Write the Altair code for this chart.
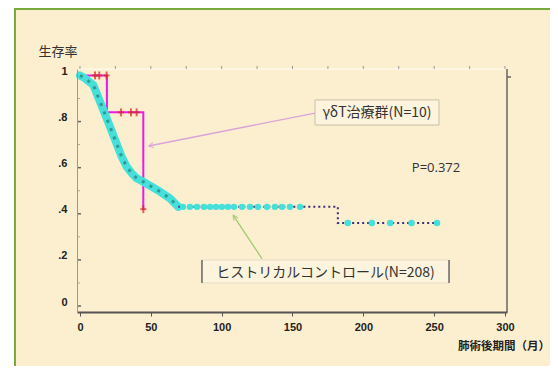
import altair as alt
import pandas as pd

# ---- data ----
# gamma-delta T treatment group (N=10): step curve vertices
treat_t = [0, 19, 19, 44.7, 44.7]
treat_s = [1.0, 1.0, 0.84, 0.84, 0.42]
# censor marks of treatment group
treat_cens_t = [10.6, 13.6, 18.8, 29, 36, 40, 44.7]
treat_cens_s = [1.0, 1.0, 1.0, 0.84, 0.84, 0.84, 0.42]

# historical control (N=208): curve vertices
ctrl_t = [69.4, 182, 182, 252]
ctrl_s = [0.43, 0.43, 0.36, 0.36]
# descending part drawn as dense censor band
band_t = [0, 3, 9.4, 16.5, 21.2, 29.4, 33, 36.5, 40, 44.7, 56.5, 63.5, 69.4]
band_s = [1.0, 0.99, 0.959, 0.85, 0.778, 0.648, 0.604, 0.576, 0.554, 0.539, 0.496, 0.467, 0.43]
# censor points on the plateaus
cens_t = [72.7, 77.6, 82.6, 87.5, 91.8, 96, 100.2, 104.5, 108.7, 114.4, 120, 125.6, 132, 137.6,
          142.6, 148.2, 155.3, 189, 206, 219, 234, 252]
cens_s = [0.43] * 17 + [0.36] * 5

# axis ticks
x_ticks = [0, 50, 100, 150, 200, 250, 300]
y_ticks = [0, 0.2, 0.4, 0.6, 0.8, 1.0]
y_minor = [0.1, 0.3, 0.5, 0.7, 0.9]
top_ticks = [0, 25, 50, 75, 100, 125, 150, 175, 200, 225, 250, 275, 300]

# annotations
label_treat = "γδT治療群(N=10)"
label_ctrl = "ヒストリカルコントロール(N=208)"
label_p = "P=0.372"
y_title = "生存率"
x_title = "肺術後期間（月）"

BG = "#FCEFCF"
CJK = "Noto Sans CJK JP"

X = alt.Scale(domain=[-2.1, 301.4], nice=False, zero=False)
Y = alt.Scale(domain=[-0.026, 1.028], nice=False, zero=False)

W, H = 430, 243

one = pd.DataFrame({"a": [0]})

frame = alt.Chart(one).mark_rect(fill=BG, stroke="#7AAA3C", strokeWidth=2).encode(
    x=alt.value(-62), x2=alt.value(560), y=alt.value(-60), y2=alt.value(380)
)

base_x = alt.X("t:Q", scale=X, axis=alt.Axis(values=x_ticks, title=None, grid=False,
               domainColor="#555", domainWidth=2, tickColor="#555", tickSize=4,
               labelFontWeight="bold", labelFontSize=11, labelColor="#222",
               labelFont="Liberation Sans", labelPadding=5, zindex=1, labelFlush=False))
base_y = alt.Y("s:Q", scale=Y, axis=alt.Axis(values=y_ticks, title=None, grid=False,
               domainColor="#999", domainWidth=1, tickSize=0, labelPadding=10,
               labelFontWeight="bold", labelFontSize=11, labelColor="#222",
               labelFont="Liberation Sans", labelOffset=-4, zindex=1,
               labelExpr="datum.value == 1 ? '1' : datum.value == 0 ? '0' : replace(format(datum.value, '.1f'), '0.', '.')"))

# treatment line
tdf = pd.DataFrame({"t": treat_t, "s": treat_s, "i": range(len(treat_t))})
treat_line = alt.Chart(tdf).mark_line(color="#E81CE8", strokeWidth=2).encode(
    x=base_x, y=base_y, order="i:O")

tcdf = pd.DataFrame({"t": treat_cens_t, "s": treat_cens_s})
treat_cens = alt.Chart(tcdf).mark_tick(color="#D42A2A", orient="vertical", size=8, thickness=2).encode(
    x="t:Q", y="s:Q")
treat_cens_h = alt.Chart(tcdf).mark_tick(color="#D42A2A", orient="horizontal", size=6, thickness=2).encode(
    x="t:Q", y="s:Q")

# control
bdf = pd.DataFrame({"t": band_t, "s": band_s, "i": range(len(band_t))})
band = alt.Chart(bdf).mark_line(color="#45E0DA", strokeWidth=8, strokeCap="round").encode(
    x="t:Q", y="s:Q", order="i:O")
band_dots = alt.Chart(bdf).mark_line(color="#2E9A93", strokeWidth=3, strokeDash=[3, 6]).encode(
    x="t:Q", y="s:Q", order="i:O")
cdf = pd.DataFrame({"t": ctrl_t, "s": ctrl_s, "i": range(len(ctrl_t))})
ctrl_line = alt.Chart(cdf).mark_line(color="#3B2F78", strokeWidth=2, strokeDash=[2, 3]).encode(
    x="t:Q", y="s:Q", order="i:O")
csdf = pd.DataFrame({"t": cens_t, "s": cens_s})
ctrl_cens = alt.Chart(csdf).mark_circle(color="#45E0DA", size=42, opacity=1).encode(x="t:Q", y="s:Q")

# frame edges and ticks
right_edge = alt.Chart(one).mark_rule(color="#666", strokeWidth=1.5).encode(
    x=alt.value(W), y=alt.value(0), y2=alt.value(H))
top_edge = alt.Chart(one).mark_rule(color="#FFF8EA", strokeWidth=1.5).encode(
    x=alt.value(0), x2=alt.value(W), y=alt.value(0))
ytk = alt.Chart(pd.DataFrame({"s": y_ticks})).mark_rule(color="#666", strokeWidth=1.5).encode(
    y="s:Q", x=alt.value(0), x2=alt.value(4))
ymn = alt.Chart(pd.DataFrame({"s": y_minor})).mark_rule(color="#AAA", strokeWidth=1).encode(
    y="s:Q", x=alt.value(0), x2=alt.value(3))
ttk = alt.Chart(pd.DataFrame({"t": top_ticks})).mark_rule(color="#999", strokeWidth=1).encode(
    x="t:Q", y=alt.value(-3), y2=alt.value(0))
rtk = alt.Chart(one).mark_rule(color="#666", strokeWidth=1.5).encode(
    x=alt.value(W), x2=alt.value(W + 4), y=alt.value(8))

# annotation boxes
box1 = alt.Chart(pd.DataFrame({"t": [165.9], "t2": [253.4], "s": [0.785], "s2": [0.894]})).mark_rect(
    fill="#FDF4DE", stroke="#C9BFA6", strokeWidth=1).encode(x="t:Q", x2="t2:Q", y="s:Q", y2="s2:Q")
txt1 = alt.Chart(pd.DataFrame({"t": [209.6], "s": [0.838], "l": [label_treat]})).mark_text(
    font=CJK, fontSize=14, color="#333").encode(x="t:Q", y="s:Q", text="l:N")
arr1 = alt.Chart(pd.DataFrame({"t": [165.9], "t2": [48.5], "s": [0.837], "s2": [0.694]})).mark_rule(
    color="#D9A3D9", strokeWidth=1.3).encode(x="t:Q", x2="t2:Q", y="s:Q", y2="s2:Q")
head1 = alt.Chart(pd.DataFrame({"t": [48.5], "s": [0.694]})).mark_point(
    shape="M -1 -0.55 L 0 0 L -1 0.55", filled=False, stroke="#D9A3D9", strokeWidth=1.3,
    size=90, angle=169).encode(x="t:Q", y="s:Q")

box2 = alt.Chart(pd.DataFrame({"t": [86.1], "t2": [260.5], "s": [0.1], "s2": [0.2]})).mark_rect(
    fill="#FDF4DE", stroke="#E6DCC4", strokeWidth=1).encode(x="t:Q", x2="t2:Q", y="s:Q", y2="s2:Q")
box2_sides = alt.Chart(pd.DataFrame({"t": [86.1, 260.5], "s": [0.1, 0.1], "s2": [0.2, 0.2]})).mark_rule(
    color="#555", strokeWidth=1.3).encode(x="t:Q", y="s:Q", y2="s2:Q")
txt2 = alt.Chart(pd.DataFrame({"t": [173.3], "s": [0.143], "l": [label_ctrl]})).mark_text(
    font=CJK, fontSize=14, color="#333").encode(x="t:Q", y="s:Q", text="l:N")
arr2 = alt.Chart(pd.DataFrame({"t": [128.5], "t2": [108.2], "s": [0.205], "s2": [0.393]})).mark_rule(
    color="#9CCB6A", strokeWidth=1.3).encode(x="t:Q", x2="t2:Q", y="s:Q", y2="s2:Q")
head2 = alt.Chart(pd.DataFrame({"t": [108.2], "s": [0.393]})).mark_point(
    shape="M -1 -0.55 L 0 0 L -1 0.55", filled=False, stroke="#9CCB6A", strokeWidth=1.3,
    size=90, angle=236).encode(x="t:Q", y="s:Q")

ptxt = alt.Chart(pd.DataFrame({"t": [251.3], "s": [0.6], "l": [label_p]})).mark_text(
    font="Open Sans", fontSize=13, color="#333").encode(x="t:Q", y="s:Q", text="l:N")

ytitle = alt.Chart(pd.DataFrame({"t": [-15.5], "s": [1.102], "l": [y_title]})).mark_text(
    font=CJK, fontSize=13, color="#333").encode(x="t:Q", y="s:Q", text="l:N")
xtitle = alt.Chart(pd.DataFrame({"t": [331.8], "s": [-0.178], "l": [x_title]})).mark_text(
    font=CJK, fontSize=11.5, fontWeight="bold", color="#222", align="right").encode(
    x="t:Q", y="s:Q", text="l:N")

chart = alt.layer(
    frame, treat_line, top_edge, right_edge, ytk, ymn, ttk, rtk,
    box1, arr1, head1, box2, box2_sides, arr2, head2,
    band, band_dots, ctrl_line, ctrl_cens,
    treat_cens, treat_cens_h,
    txt1, txt2, ptxt, ytitle, xtitle,
).properties(
    width=W, height=H,
    autosize=alt.AutoSizeParams(type="none"),
    padding={"left": 69, "top": 61, "right": 43, "bottom": 54},
    background="white",
).configure_view(stroke=None)

chart.save("out.html", embed_options={"renderer": "svg", "actions": False})
